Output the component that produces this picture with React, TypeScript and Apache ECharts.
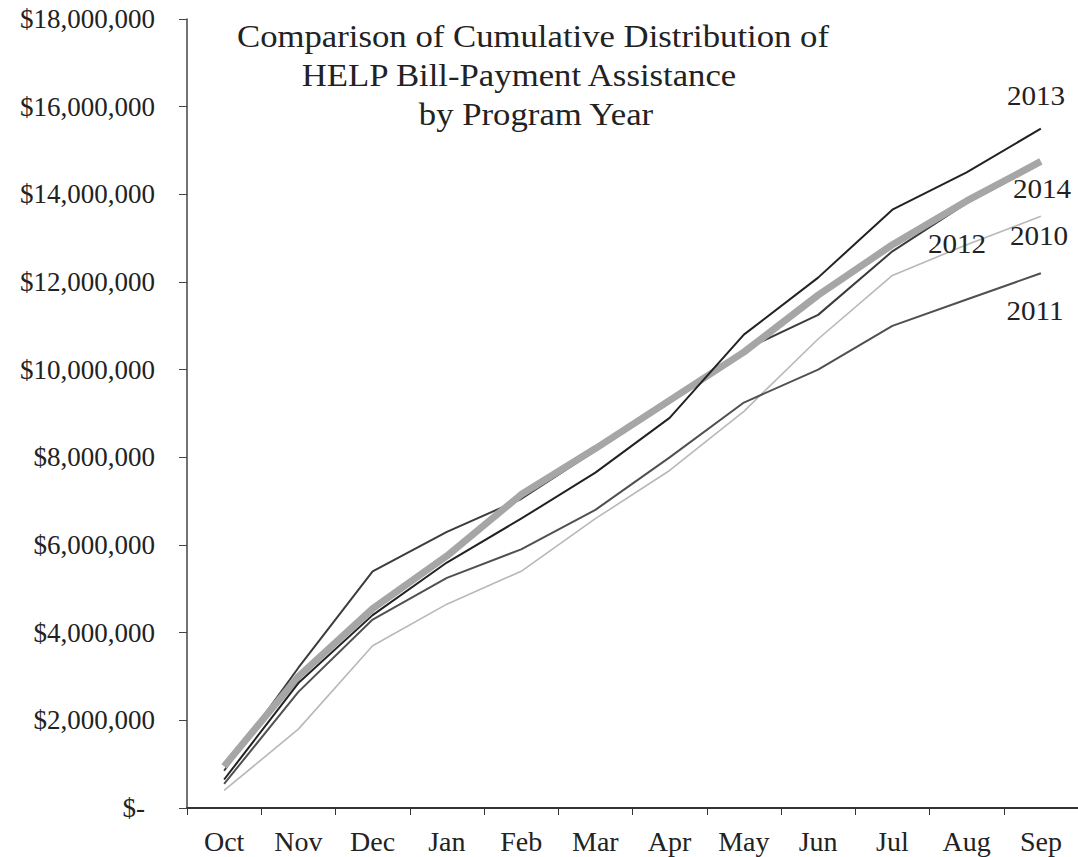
import React, { useEffect, useRef } from "react";
import * as echarts from "echarts";

const months = ["Oct", "Nov", "Dec", "Jan", "Feb", "Mar", "Apr", "May", "Jun", "Jul", "Aug", "Sep"];

const y2010 = [400000, 1800000, 3700000, 4650000, 5400000, 6600000, 7700000, 9050000, 10700000, 12150000, 12850000, 13500000];
const y2011 = [550000, 2650000, 4300000, 5250000, 5900000, 6800000, 8000000, 9250000, 10000000, 11000000, 11600000, 12200000];
const y2012 = [850000, 3200000, 5400000, 6300000, 7050000, 8150000, 9250000, 10450000, 11250000, 12700000, 13800000, 14700000];
const y2013 = [650000, 2850000, 4400000, 5600000, 6600000, 7650000, 8900000, 10800000, 12100000, 13650000, 14500000, 15500000];
const y2014 = [950000, 3000000, 4550000, 5750000, 7150000, 8200000, 9300000, 10400000, 11700000, 12850000, 13850000, 14750000];

const titleLines = [
  "Comparison of Cumulative Distribution of",
  "HELP Bill-Payment Assistance",
  "by Program Year",
];

const FONT = "'Liberation Serif', 'Times New Roman', serif";

export default function App() {
  const ref = useRef<HTMLDivElement>(null);
  useEffect(() => {
    if (!ref.current) return;
    const chart = echarts.init(ref.current, null, { renderer: "svg" });
    const yearText = (text: string, x: number, y: number) => ({
      type: "text",
      x,
      y,
      scaleX: 1.04,
      style: {
        text,
        fill: "#222",
        font: `28px ${FONT}`,
        align: "center",
        verticalAlign: "middle",
      },
      z: 100,
    });
    const titleText = (text: string, x: number, y: number) => ({
      type: "text",
      x,
      y,
      scaleX: 1.12,
      style: {
        text,
        fill: "#222",
        font: `31px ${FONT}`,
        align: "center",
        verticalAlign: "middle",
      },
      z: 100,
    });
    const line = (name: string, data: number[], color: string, width: number, z: number) => ({
      name,
      type: "line",
      data,
      symbol: "none",
      z,
      lineStyle: { color, width },
    });
    chart.setOption({
      animation: false,
      backgroundColor: "#ffffff",
      textStyle: { fontFamily: FONT },
      grid: { left: 187, top: 19, width: 896, bottom: 49, containLabel: false },
      xAxis: {
        type: "category",
        data: months,
        boundaryGap: true,
        axisLine: { lineStyle: { color: "#333", width: 2 } },
        axisTick: { show: true, interval: 0, length: 7, lineStyle: { color: "#333", width: 1 } },
        axisLabel: { fontSize: 28, color: "#222", fontFamily: FONT, margin: 19, interval: 0 },
      },
      yAxis: {
        type: "value",
        min: 0,
        max: 18000000,
        interval: 2000000,
        splitLine: { show: false },
        axisLine: { show: true, lineStyle: { color: "#444", width: 1.5 } },
        axisTick: { show: true, length: 8, lineStyle: { color: "#444" } },
        axisLabel: {
          fontSize: 27,
          color: "#222",
          fontFamily: FONT,
          margin: 32,
          formatter: (v: number) =>
            v === 0 ? "{z|$-}" : "$" + v.toLocaleString("en-US"),
          rich: { z: { fontSize: 27, fontFamily: FONT, color: "#222", padding: [0, 10, 0, 0] } },
        },
      },
      series: [
        line("2010", y2010, "#b8b8b8", 1.6, 2),
        line("2011", y2011, "#505050", 2, 3),
        line("2012", y2012, "#3c3c3c", 2, 4),
        line("2014", y2014, "#a6a6a6", 7, 5),
        line("2013", y2013, "#222222", 2, 6),
      ],
      graphic: [
        titleText(titleLines[0], 533, 37),
        titleText(titleLines[1], 519, 76),
        titleText(titleLines[2], 536, 115),
        yearText("2013", 1036, 96),
        yearText("2014", 1042, 189),
        yearText("2012", 957, 244),
        yearText("2010", 1039, 236),
        yearText("2011", 1035, 311),
      ],
    });
    return () => chart.dispose();
  }, []);
  return (
    <div
      ref={ref}
      style={{ position: "absolute", left: 0, top: 0, width: 1078, height: 857 }}
    />
  );
}
